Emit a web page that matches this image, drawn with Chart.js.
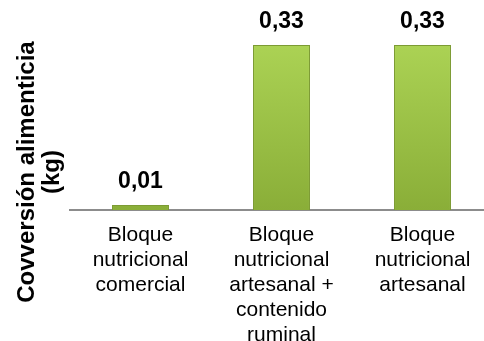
<!DOCTYPE html>
<html>
<head>
<meta charset="utf-8">
<script src="https://cdn.jsdelivr.net/npm/chart.js@4"></script>
<style>
    html, body { margin: 0; padding: 0; background: #fff; overflow: hidden; }
    #wrap { width: 493px; height: 341px; position: relative; }
</style>
</head>
<body>
<div id="wrap"><canvas id="conversion-bar"></canvas></div>
<script>
    // Data
    const categories = [
        ["Bloque", "nutricional", "comercial"],
        ["Bloque", "nutricional", "artesanal +", "contenido", "ruminal"],
        ["Bloque", "nutricional", "artesanal"]
    ];
    const conversion_values = [0.01, 0.33, 0.33];
    const y_title_lines = ["Covversión alimenticia", "(kg)"];

    const font_family = "'Liberation Sans', Arial, sans-serif";

    // Value labels above each bar, with a decimal comma
    const valueLabels = {
        id: "valueLabels",
        afterDatasetsDraw(chart) {
            const ctx = chart.ctx;
            const meta = chart.getDatasetMeta(0);
            ctx.save();
            ctx.font = "bold 23px " + font_family;
            ctx.fillStyle = "#000";
            ctx.textAlign = "center";
            ctx.textBaseline = "middle";
            meta.data.forEach((bar, i) => {
                const txt = conversion_values[i].toFixed(2).replace(".", ",");
                ctx.fillText(txt, bar.x, bar.y - 23);
            });
            ctx.restore();
        }
    };

    // Rotated axis title, placed like the original (not centred on the plot)
    const yTitle = {
        id: "yTitle",
        afterDraw(chart) {
            const ctx = chart.ctx;
            ctx.save();
            ctx.font = "bold 24px " + font_family;
            ctx.fillStyle = "#000";
            ctx.textAlign = "center";
            ctx.textBaseline = "middle";
            ctx.translate(27, 172);
            ctx.rotate(-Math.PI / 2);
            ctx.fillText(y_title_lines[0], 0, 0);
            ctx.fillText(y_title_lines[1], 0, 25);
            ctx.restore();
        }
    };

    const canvas = document.getElementById("conversion-bar");

    const config_bar = {
        type: "bar",
        data: {
            labels: categories,
            datasets: [{
                label: "Conversión alimenticia (kg)",
                data: conversion_values,
                backgroundColor: (c) => {
                    const area = c.chart.chartArea;
                    if (!area) return "#9bc04a";
                    const g = c.chart.ctx.createLinearGradient(0, 45, 0, area.bottom);
                    g.addColorStop(0, "#abd254");
                    g.addColorStop(1, "#8aae38");
                    return g;
                },
                borderColor: "#7c9b33",
                borderWidth: 1,
                barPercentage: 0.404,
                categoryPercentage: 1
            }]
        },
        options: {
            responsive: true,
            maintainAspectRatio: false,
            animation: false,
            layout: {
                padding: { left: 70, top: 0, right: 0, bottom: 0 }
            },
            plugins: {
                legend: { display: false },
                tooltip: { enabled: false }
            },
            scales: {
                x: {
                    grid: { display: false, drawTicks: false },
                    border: { display: true, color: "#8c8c8c", width: 2 },
                    afterFit: (scale) => { scale.height = 131; },
                    ticks: {
                        color: "#000",
                        padding: 13,
                        maxRotation: 0,
                        autoSkip: false,
                        font: { family: font_family, size: 21, lineHeight: 1.19 }
                    }
                },
                y: {
                    display: false,
                    min: 0,
                    max: 0.42
                }
            }
        },
        plugins: [valueLabels, yTitle]
    };

    const barChart = new Chart(canvas.getContext("2d"), config_bar);
</script>
</body>
</html>
